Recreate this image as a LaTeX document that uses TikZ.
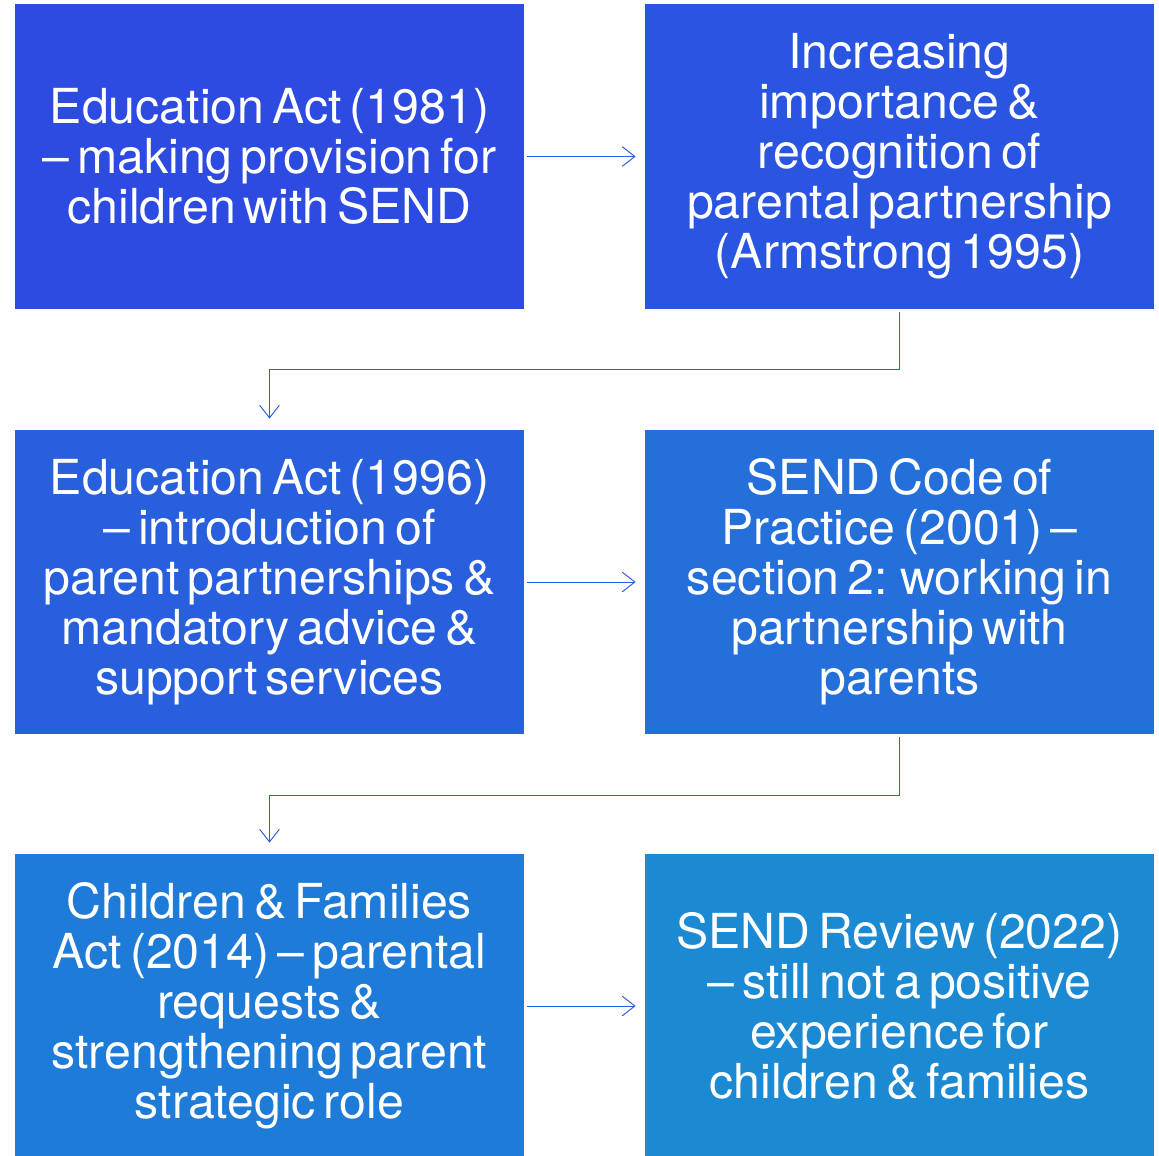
\documentclass[tikz,border=0pt]{standalone}
\usepackage{fontspec}
\setmainfont[WordSpace=0.6]{TeX Gyre Heros}
\usetikzlibrary{calc,arrows.meta}
\definecolor{boxA}{HTML}{2D4BE1}
\definecolor{boxB}{HTML}{2A55E1}
\definecolor{boxC}{HTML}{285FDD}
\definecolor{boxD}{HTML}{246FDA}
\definecolor{boxE}{HTML}{1E7BD8}
\definecolor{boxF}{HTML}{1C89D3}
\definecolor{link}{HTML}{2A5FDF}
\tikzset{
	stage/.style={fill=#1, inner sep=0pt, minimum width=12.725cm, minimum height=7.6cm,
		align=center, text=white, font=\fontsize{34.3}{35.6}\selectfont},
	link/.style={draw=link, line width=0.7pt, -{Straight Barb[length=9pt,width=14pt]}}
}

\begin{document}
\begin{tikzpicture}[x=0.025cm, y=-0.025cm]
		%%%%% START %%%%%
		
		\useasboundingbox (0, 0) rectangle (1159, 1156);
		
		\node[stage=boxA] (act81) at (269.5, 156.5) {Education Act (1981)\\ -- making provision for\\ children with SEND};
		\node[stage=boxB] (recog) at (899.5, 156.5) {Increasing\\ importance \&\\ recognition of\\ parental partnership\\ (Armstrong 1995)};
		
		\node[stage=boxC] (act96) at (269.5, 582) {Education Act (1996)\\ -- introduction of\\ parent partnerships \&\\ mandatory advice \&\\ support services};
		\node[stage=boxD] (code01) at (899.5, 582) {SEND Code of\\ Practice (2001) --\\ section 2: working in\\ partnership with\\ parents};
		
		\node[stage=boxE] (act14) at (269.5, 1006) {Children \& Families\\ Act (2014) -- parental\\ requests \&\\ strengthening parent\\ strategic role};
		\node[stage=boxF] (rev22) at (899.5, 1006) {SEND Review (2022)\\ -- still not a positive\\ experience for\\ children \& families};
		
		% links along each row
		\draw[link] ($(act81.east)+(3, 0)$) -- ($(recog.west)+(-9, 0)$);
		\draw[link] ($(act96.east)+(3, 0)$) -- ($(code01.west)+(-9, 0)$);
		\draw[link] ($(act14.east)+(3, 0)$) -- ($(rev22.west)+(-9, 0)$);
		
		% links down to the next row
		\draw[link] ($(recog.south)+(0, 3)$) -- ++(0, 58) -| ($(act96.north)+(0, -11)$);
		\draw[link] ($(code01.south)+(0, 3)$) -- ++(0, 58) -| ($(act14.north)+(0, -11)$);
		
		%%%%% END %%%%%
	\end{tikzpicture}
\end{document}
